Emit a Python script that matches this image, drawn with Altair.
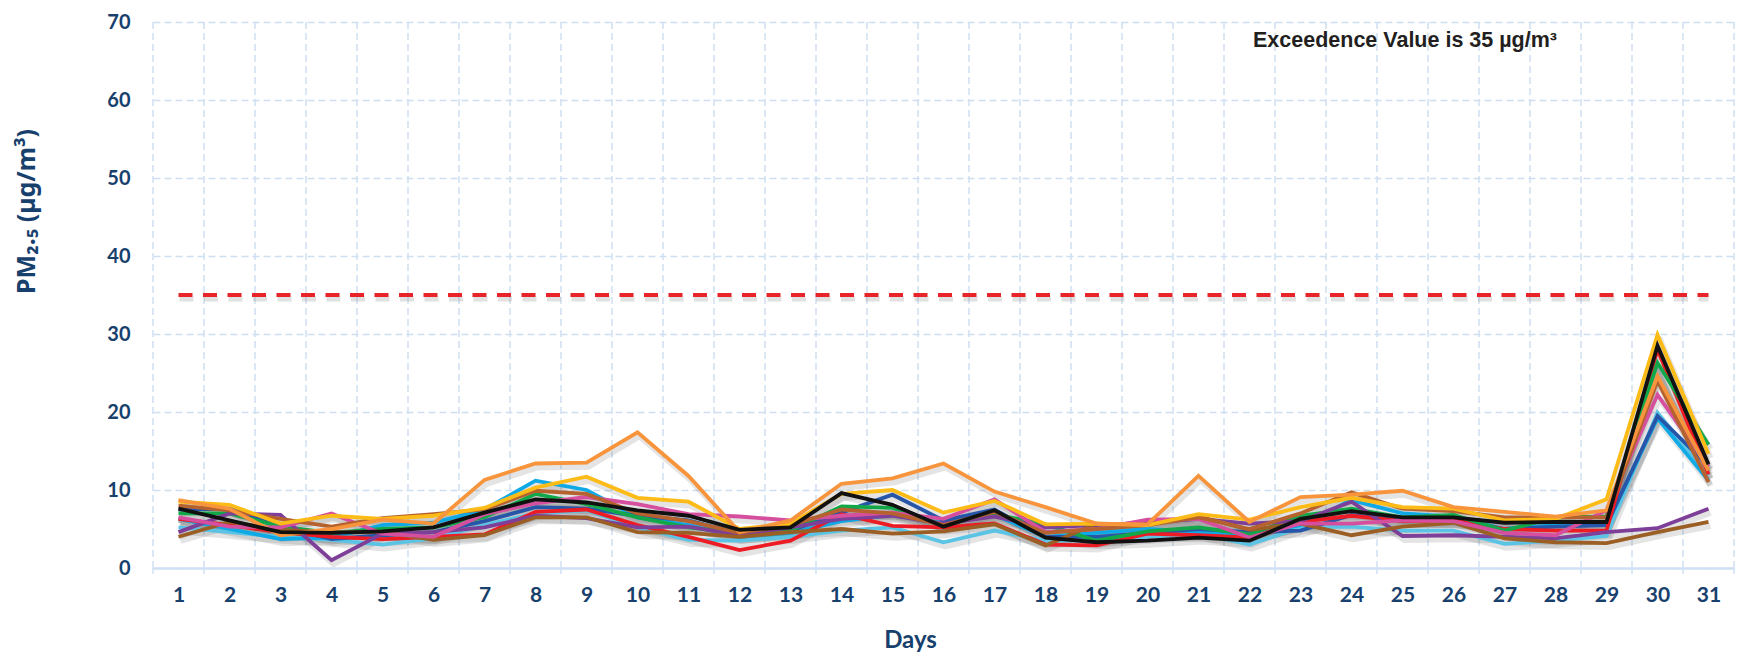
import altair as alt
import pandas as pd

days = list(range(1, 32))

# PM2.5 daily values per monitoring series
grey = [6.0, 5.8, 4.9, 4.6, 4.6, 5.0, 6.5, 8.0, 7.8, 6.5, 5.5, 4.6, 5.0, 7.0, 7.2, 5.6, 6.5, 4.5, 4.5, 5.0, 5.6, 4.6, 6.0, 6.5, 6.0, 6.0, 5.5, 5.5, 6.0, 25.5, 12.0]
cyan = [5.2, 4.6, 4.0, 3.6, 3.0, 3.8, 5.5, 7.0, 7.4, 5.2, 3.6, 3.5, 4.0, 4.8, 5.2, 3.3, 4.8, 3.5, 3.6, 4.0, 4.4, 3.0, 5.2, 5.3, 4.8, 4.8, 3.1, 3.5, 4.1, 19.9, 11.9]
light_blue = [6.3, 5.0, 3.7, 3.9, 5.5, 5.8, 7.5, 11.2, 10.0, 6.5, 5.5, 4.0, 4.5, 6.0, 6.8, 5.8, 6.8, 4.0, 4.5, 5.0, 4.6, 4.2, 5.5, 8.7, 7.0, 6.6, 5.0, 5.5, 5.5, 19.2, 11.2]
dark_blue = [7.5, 7.6, 5.3, 3.7, 4.2, 4.6, 6.0, 7.8, 7.6, 6.7, 6.1, 4.4, 4.8, 7.1, 9.4, 6.1, 7.5, 4.0, 4.0, 4.5, 5.0, 4.6, 4.8, 6.8, 6.1, 6.3, 5.0, 5.3, 5.5, 19.5, 13.1]
red = [6.3, 5.5, 4.6, 4.0, 3.7, 4.0, 4.3, 7.2, 7.5, 5.5, 4.0, 2.3, 3.5, 6.9, 5.4, 5.2, 5.7, 3.0, 2.9, 4.4, 4.2, 3.9, 5.9, 6.7, 6.0, 6.1, 5.0, 4.8, 4.8, 28.0, 12.0]
green = [7.0, 7.0, 5.3, 4.5, 5.0, 5.2, 6.5, 9.5, 8.2, 6.5, 5.2, 4.5, 4.8, 7.9, 7.7, 5.5, 6.9, 5.6, 3.5, 4.7, 5.2, 4.3, 6.7, 7.6, 6.5, 6.8, 4.8, 6.5, 6.6, 26.3, 15.8]
purple = [4.6, 7.0, 6.8, 1.0, 4.4, 4.6, 5.2, 6.7, 6.4, 5.2, 5.3, 4.2, 5.2, 6.3, 6.7, 5.7, 6.6, 5.2, 5.5, 5.8, 6.3, 5.7, 6.0, 8.5, 4.1, 4.2, 4.0, 3.8, 4.6, 5.1, 7.6]
brown = [4.0, 5.9, 4.9, 4.6, 4.6, 3.6, 4.2, 6.5, 6.5, 4.6, 4.5, 4.0, 4.6, 5.0, 4.4, 4.7, 5.6, 2.9, 5.7, 5.6, 6.6, 4.9, 5.7, 4.2, 5.3, 5.8, 3.8, 3.3, 3.2, 4.6, 5.9]
pink = [6.5, 5.3, 5.2, 7.0, 4.4, 4.0, 6.9, 8.3, 9.1, 8.2, 6.9, 6.6, 6.1, 6.7, 7.1, 6.3, 8.8, 4.6, 5.0, 6.2, 6.3, 3.9, 5.7, 5.7, 6.1, 6.0, 4.5, 4.2, 7.4, 22.2, 13.0]
rust = [8.0, 7.4, 6.3, 5.3, 6.4, 6.9, 7.5, 9.9, 9.5, 7.0, 6.0, 4.5, 5.5, 7.5, 7.0, 5.5, 7.2, 4.5, 5.0, 5.5, 6.5, 5.0, 7.0, 9.7, 7.6, 7.3, 6.5, 6.5, 6.5, 24.0, 11.0]
yellow = [8.5, 8.1, 5.7, 6.7, 6.3, 6.7, 7.7, 10.3, 11.7, 9.0, 8.5, 5.0, 5.7, 9.5, 10.0, 7.1, 8.6, 5.6, 5.7, 5.5, 6.9, 6.2, 7.8, 9.0, 7.8, 7.6, 6.1, 6.3, 8.8, 29.9, 14.6]
orange = [8.7, 7.6, 4.2, 5.0, 6.2, 5.7, 11.3, 13.4, 13.5, 17.4, 11.8, 4.6, 6.1, 10.8, 11.5, 13.4, 9.8, 7.8, 5.7, 5.6, 11.8, 5.9, 9.1, 9.4, 9.9, 7.8, 7.2, 6.6, 7.4, 24.6, 12.5]
black = [7.6, 6.1, 4.6, 4.5, 4.7, 5.2, 7.1, 8.8, 8.4, 7.4, 6.7, 4.9, 5.2, 9.6, 8.1, 5.3, 7.4, 3.9, 3.3, 3.5, 3.9, 3.5, 6.3, 7.3, 6.5, 6.5, 5.8, 5.9, 5.9, 28.5, 13.3]

series_names = ["S01", "S02", "S03", "S04", "S05", "S06", "S07",
                "S08", "S09", "S10", "S11", "S12", "S13"]
series_values = [grey, cyan, light_blue, dark_blue, red, green, purple,
                 brown, pink, rust, yellow, orange, black]
series_colors = ["#a7a7a7", "#5bc4e5", "#0fa9e6", "#2756a8", "#ed1c24", "#12a84a", "#7d3f98",
                 "#9b5f26", "#d64f9f", "#b5622f", "#fdbb17", "#f7943c", "#111111"]
series_widths = [3.8] * 12 + [5.4]

exceedence = 35
y_ticks = [0, 10, 20, 30, 40, 50, 60, 70]
annotation = "Exceedence Value is 35 µg/m³"

rows = []
for name, vals in zip(series_names, series_values):
    for d, v in zip(days, vals):
        rows.append({"day": d, "pm": v, "series": name})
df = pd.DataFrame(rows)

grid_df = pd.DataFrame({"edge": [d - 0.5 for d in days] + [days[-1] + 0.5]})
limit_df = pd.DataFrame({"start": [days[0]], "end": [days[-1]], "limit": [exceedence]})
note_df = pd.DataFrame({"label": [annotation]})

W, H = 1581, 546
navy = "#17406d"
gridc = "#cfdff2"
lab_font = "Lato"

xscale = alt.Scale(domain=[days[0] - 0.5, days[-1] + 0.5], nice=False, zero=False)
yscale = alt.Scale(domain=[0, 70], nice=False)

x_axis = alt.Axis(
    values=days, format="d", grid=False, ticks=False, tickSize=0,
    domain=True, domainColor="#cfe0f3", domainWidth=2.5,
    labelFont=lab_font, labelFontSize=21, labelFontWeight="bold", labelColor=navy,
    labelPadding=16, labelBaseline="top",
    title="Days", titleFont=lab_font, titleFontSize=24, titleFontWeight="bold",
    titleColor=navy, titleX=757, titleY=60, titleBaseline="top", titleAlign="center",
)
y_axis = alt.Axis(
    values=y_ticks, grid=True, gridColor=gridc, gridDash=[7, 4], gridWidth=1.5,
    ticks=False, tickSize=0, domain=False,
    labelFont=lab_font, labelFontSize=20, labelFontWeight="bold", labelColor=navy,
    labelPadding=23, labelBaseline="middle",
    title="PM₂.₅ (µg/m³)", titleFont="Noto Sans", titleFontSize=25, titleFontWeight="bold",
    titleColor=navy, titleAngle=-90, titleX=-127, titleY=189,
    titleAlign="center", titleBaseline="middle",
)

vgrid = alt.Chart(grid_df).mark_rule(color=gridc, strokeDash=[7, 4], strokeWidth=1.5).encode(
    x=alt.X("edge:Q", scale=xscale, axis=x_axis),
    y=alt.value(0), y2=alt.value(H),
)
vticks = alt.Chart(grid_df).mark_rule(color="#cfe0f3", strokeWidth=1.5).encode(
    x=alt.X("edge:Q", scale=xscale),
    y=alt.value(H), y2=alt.value(H + 6),
)

limit_shadow = alt.Chart(limit_df).mark_rule(
    color="#777777", opacity=0.22, strokeWidth=5, strokeDash=[14, 10.5], yOffset=4, xOffset=1
).encode(
    x=alt.X("start:Q", scale=xscale), x2="end:Q",
    y=alt.Y("limit:Q", scale=yscale, axis=y_axis),
)
limit_line = alt.Chart(limit_df).mark_rule(
    color="#e8232a", strokeWidth=4, strokeDash=[14, 10.5]
).encode(
    x=alt.X("start:Q", scale=xscale), x2="end:Q",
    y=alt.Y("limit:Q", scale=yscale),
)

shadow = alt.Chart(df).mark_line(
    color="#555555", opacity=0.16, strokeWidth=6, xOffset=2, yOffset=4, strokeJoin="round"
).encode(
    x=alt.X("day:Q", scale=xscale),
    y=alt.Y("pm:Q", scale=yscale),
    detail="series:N",
)

lines = alt.Chart(df).mark_line(strokeJoin="miter").encode(
    x=alt.X("day:Q", scale=xscale),
    y=alt.Y("pm:Q", scale=yscale),
    color=alt.Color("series:N", scale=alt.Scale(domain=series_names, range=series_colors), legend=None),
    size=alt.Size("series:N", scale=alt.Scale(domain=series_names, range=series_widths), legend=None),
)

note = alt.Chart(note_df).mark_text(
    font="Liberation Sans", fontSize=21.5, fontWeight="bold", color="#231f20",
    align="left", baseline="middle",
).encode(
    x=alt.value(1100), y=alt.value(19), text="label:N",
)

chart = alt.layer(vgrid, vticks, limit_shadow, limit_line, shadow, lines, note).properties(
    width=W, height=H,
    autosize=alt.AutoSizeParams(type="none"),
    padding={"left": 145, "top": 14, "right": 1, "bottom": 86},
    background="white",
).configure_view(stroke=None)

chart.save("out.html", embed_options={"renderer": "svg", "actions": False})
